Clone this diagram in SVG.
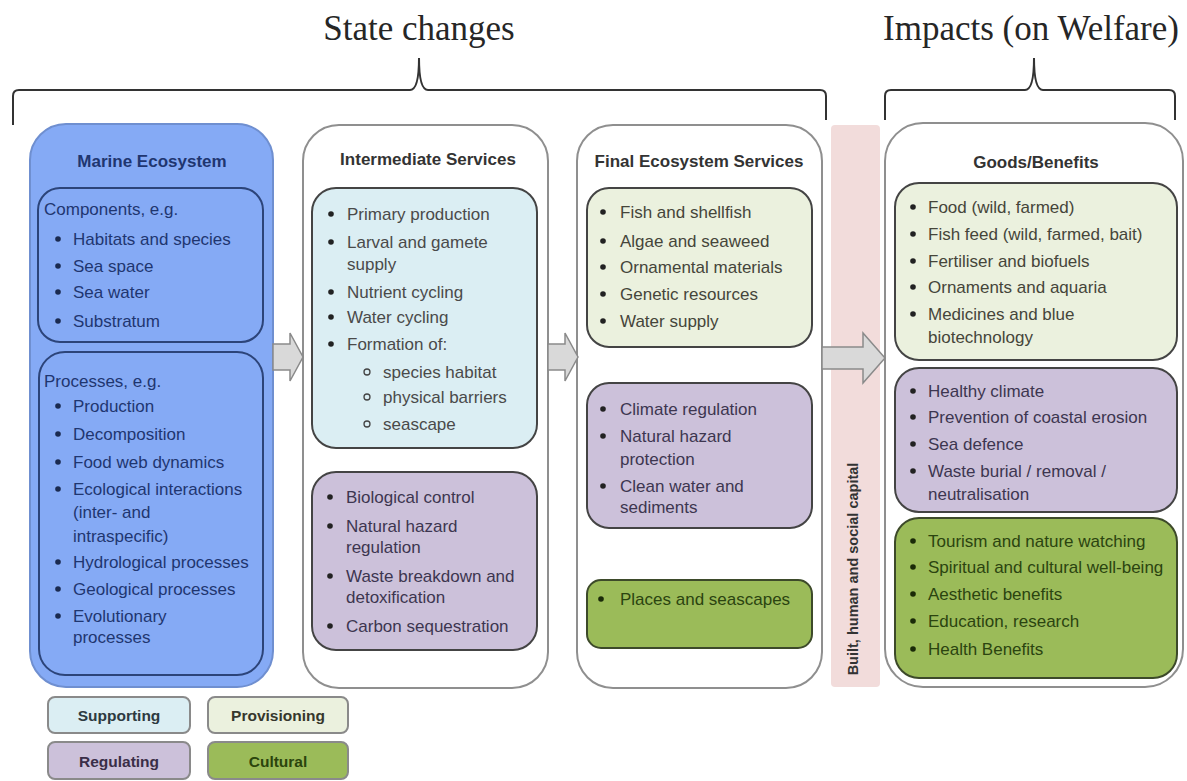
<svg xmlns="http://www.w3.org/2000/svg" width="1187" height="781" viewBox="0 0 1187 781">
<style>
.t{font-family:"Liberation Sans",Arial,sans-serif;font-size:17px}
.b{font-weight:bold}
.h{font-family:"Liberation Serif","Times New Roman",serif;font-size:35px;fill:#262626;text-anchor:middle}
.brace{fill:none;stroke:#333;stroke-width:2}
.outer{fill:#fff;stroke:#8f8f8f;stroke-width:2}
.sup{fill:#dbeef3;stroke:#444;stroke-width:2}
.reg{fill:#ccc1da;stroke:#444;stroke-width:2}
.pro{fill:#ebf1de;stroke:#444;stroke-width:2}
.cul{fill:#9bbb59;stroke:#3d4a2a;stroke-width:2}
.mi{fill:none;stroke:#2c4479;stroke-width:2}
.arrow{fill:#d9d9d9;stroke:#8a8a8a;stroke-width:1.5}
.leg{stroke:#8a8a8a;stroke-width:2}
.cn{fill:#1f3670}
.cg{fill:#4a4a4a}
.cr{fill:#3d3650}
.cp{fill:#45453a}
.cc{fill:#2b4410}
.ti{fill:#333;text-anchor:middle}
.lt{font-family:"Liberation Sans",Arial,sans-serif;font-size:15.5px;font-weight:bold;text-anchor:middle}
</style>
<defs>
<circle id="dot" r="2.8"/>
</defs>
<rect width="1187" height="781" fill="#fff"/>

<g id="headers">
<text class="h" x="419" y="40">State changes</text>
<path class="brace" d="M13,125 L13,96 Q13,90 19,90 L410,90 Q419,90 419,58 Q419,90 428,90 L820,90 Q826,90 826,96 L826,120"/>
<text class="h" x="1031" y="40">Impacts (on Welfare)</text>
<path class="brace" d="M885,120 L885,96 Q885,90 891,90 L1025,90 Q1034,90 1034,58 Q1034,90 1043,90 L1169,90 Q1175,90 1175,96 L1175,120"/>
</g>

<g id="marine-ecosystem">
<rect x="30" y="124" width="243" height="563" rx="36" fill="#85aaf5" stroke="#6f8fd0" stroke-width="2"/>
<text class="t b" x="152" y="167" style="fill:#1f3670;text-anchor:middle">Marine Ecosystem</text>
<rect class="mi" x="38" y="188" width="225" height="154" rx="22"/>
<g class="t cn">
<text x="44" y="215">Components, e.g.</text>
<text x="73" y="245">Habitats and species</text>
<text x="73" y="272">Sea space</text>
<text x="73" y="298">Sea water</text>
<text x="73" y="327">Substratum</text>
</g>
<g fill="#1a2a50">
<use href="#dot" x="58" y="239"/><use href="#dot" x="58" y="266"/><use href="#dot" x="58" y="292"/><use href="#dot" x="58" y="321"/>
</g>
<rect class="mi" x="39" y="352" width="224" height="323" rx="26"/>
<g class="t cn">
<text x="44" y="387">Processes, e.g.</text>
<text x="73" y="412">Production</text>
<text x="73" y="440">Decomposition</text>
<text x="73" y="468">Food web dynamics</text>
<text x="73" y="495">Ecological interactions</text>
<text x="73" y="518">(inter- and</text>
<text x="73" y="542">intraspecific)</text>
<text x="73" y="568">Hydrological processes</text>
<text x="73" y="595">Geological processes</text>
<text x="73" y="622">Evolutionary</text>
<text x="73" y="643">processes</text>
</g>
<g fill="#1a2a50">
<use href="#dot" x="58" y="406"/><use href="#dot" x="58" y="434"/><use href="#dot" x="58" y="462"/><use href="#dot" x="58" y="489"/><use href="#dot" x="58" y="562"/><use href="#dot" x="58" y="589"/><use href="#dot" x="58" y="616"/>
</g>
</g>

<g id="intermediate-services">
<rect class="outer" x="303" y="125" width="245" height="563" rx="36"/>
<text class="t b ti" x="428" y="165">Intermediate Services</text>
<rect class="sup" x="312" y="188" width="225" height="260" rx="24"/>
<g class="t cg">
<text x="347" y="220">Primary production</text>
<text x="347" y="248">Larval and gamete</text>
<text x="347" y="270">supply</text>
<text x="347" y="298">Nutrient cycling</text>
<text x="347" y="323">Water cycling</text>
<text x="347" y="350">Formation of:</text>
<text x="383" y="378">species habitat</text>
<text x="383" y="403">physical barriers</text>
<text x="383" y="430">seascape</text>
</g>
<g fill="#222">
<use href="#dot" x="331" y="214"/><use href="#dot" x="331" y="242"/><use href="#dot" x="331" y="292"/><use href="#dot" x="331" y="317"/><use href="#dot" x="331" y="344"/>
</g>
<g fill="none" stroke="#444" stroke-width="1.3">
<circle cx="367" cy="372" r="3"/><circle cx="367" cy="397" r="3"/><circle cx="367" cy="424" r="3"/>
</g>
<rect class="reg" x="312" y="472" width="225" height="178" rx="24"/>
<g class="t cr">
<text x="346" y="503">Biological control</text>
<text x="346" y="532">Natural hazard</text>
<text x="346" y="553">regulation</text>
<text x="346" y="582">Waste breakdown and</text>
<text x="346" y="603">detoxification</text>
<text x="346" y="632">Carbon sequestration</text>
</g>
<g fill="#222">
<use href="#dot" x="330" y="497"/><use href="#dot" x="330" y="526"/><use href="#dot" x="330" y="576"/><use href="#dot" x="330" y="626"/>
</g>
</g>

<g id="final-ecosystem-services">
<rect class="outer" x="577" y="125" width="245" height="563" rx="36"/>
<text class="t b ti" x="699" y="167">Final Ecosystem Services</text>
<rect class="pro" x="587" y="188" width="225" height="159" rx="22"/>
<g class="t cp">
<text x="620" y="218">Fish and shellfish</text>
<text x="620" y="247">Algae and seaweed</text>
<text x="620" y="273">Ornamental materials</text>
<text x="620" y="300">Genetic resources</text>
<text x="620" y="327">Water supply</text>
</g>
<g fill="#222">
<use href="#dot" x="603" y="212"/><use href="#dot" x="603" y="241"/><use href="#dot" x="603" y="267"/><use href="#dot" x="603" y="294"/><use href="#dot" x="603" y="321"/>
</g>
<rect class="reg" x="587" y="383" width="225" height="145" rx="22"/>
<g class="t cr">
<text x="620" y="415">Climate regulation</text>
<text x="620" y="442">Natural hazard</text>
<text x="620" y="465">protection</text>
<text x="620" y="492">Clean water and</text>
<text x="620" y="513">sediments</text>
</g>
<g fill="#222">
<use href="#dot" x="603" y="409"/><use href="#dot" x="603" y="436"/><use href="#dot" x="603" y="486"/>
</g>
<rect class="cul" x="587" y="580" width="225" height="68" rx="14"/>
<text class="t cc" x="620" y="605">Places and seascapes</text>
<use href="#dot" x="601" y="599" fill="#1a2a08"/>
</g>

<g id="capital-bar">
<rect x="831" y="125" width="49" height="562" rx="4" fill="#f2dcdb"/>
<text class="t b" x="0" y="0" style="font-size:14.5px;fill:#333;text-anchor:middle" transform="translate(858,569) rotate(-90)">Built, human and social capital</text>
</g>

<g id="goods-benefits">
<rect class="outer" x="885" y="123" width="298" height="564" rx="38"/>
<text class="t b ti" x="1036" y="168">Goods/Benefits</text>
<rect class="pro" x="895" y="183" width="282" height="177" rx="24"/>
<g class="t cp">
<text x="928" y="213">Food (wild, farmed)</text>
<text x="928" y="240">Fish feed (wild, farmed, bait)</text>
<text x="928" y="267">Fertiliser and biofuels</text>
<text x="928" y="293">Ornaments and aquaria</text>
<text x="928" y="320">Medicines and blue</text>
<text x="928" y="343">biotechnology</text>
</g>
<g fill="#222">
<use href="#dot" x="913" y="207"/><use href="#dot" x="913" y="234"/><use href="#dot" x="913" y="261"/><use href="#dot" x="913" y="287"/><use href="#dot" x="913" y="314"/>
</g>
<rect class="reg" x="895" y="368" width="282" height="144" rx="24"/>
<g class="t cr">
<text x="928" y="397">Healthy climate</text>
<text x="928" y="423">Prevention of coastal erosion</text>
<text x="928" y="450">Sea defence</text>
<text x="928" y="477">Waste burial / removal /</text>
<text x="928" y="500">neutralisation</text>
</g>
<g fill="#222">
<use href="#dot" x="913" y="391"/><use href="#dot" x="913" y="417"/><use href="#dot" x="913" y="444"/><use href="#dot" x="913" y="471"/>
</g>
<rect class="cul" x="895" y="518" width="282" height="160" rx="24"/>
<g class="t cc">
<text x="928" y="547">Tourism and nature watching</text>
<text x="928" y="573">Spiritual and cultural well-being</text>
<text x="928" y="600">Aesthetic benefits</text>
<text x="928" y="627">Education, research</text>
<text x="928" y="655">Health Benefits</text>
</g>
<g fill="#1a2a08">
<use href="#dot" x="913" y="541"/><use href="#dot" x="913" y="567"/><use href="#dot" x="913" y="594"/><use href="#dot" x="913" y="621"/><use href="#dot" x="913" y="649"/>
</g>
</g>

<g id="connectors">
<polygon class="arrow" points="273,344 290,344 290,333 303,357 290,381 290,370 273,370"/>
<polygon class="arrow" points="548,344 565,344 565,333 578,357 565,381 565,370 548,370"/>
<polygon class="arrow" points="822,347 863,347 863,333 885,358 863,383 863,369 822,369"/>
</g>

<g id="legend">
<g id="legend-supporting">
<rect class="leg" x="48" y="697" width="142" height="36" rx="7" fill="#dbeef3"/>
<text class="lt" x="119" y="721" fill="#2d3a40">Supporting</text>
</g>
<g id="legend-provisioning">
<rect class="leg" x="208" y="697" width="140" height="36" rx="7" fill="#ebf1de"/>
<text class="lt" x="278" y="721" fill="#36372c">Provisioning</text>
</g>
<g id="legend-regulating">
<rect class="leg" x="48" y="742" width="142" height="37" rx="7" fill="#ccc1da"/>
<text class="lt" x="119" y="767" fill="#3a2e48">Regulating</text>
</g>
<g id="legend-cultural">
<rect class="leg" x="208" y="742" width="140" height="37" rx="7" fill="#9bbb59"/>
<text class="lt" x="278" y="767" fill="#2b440c">Cultural</text>
</g>
</g>
</svg>
